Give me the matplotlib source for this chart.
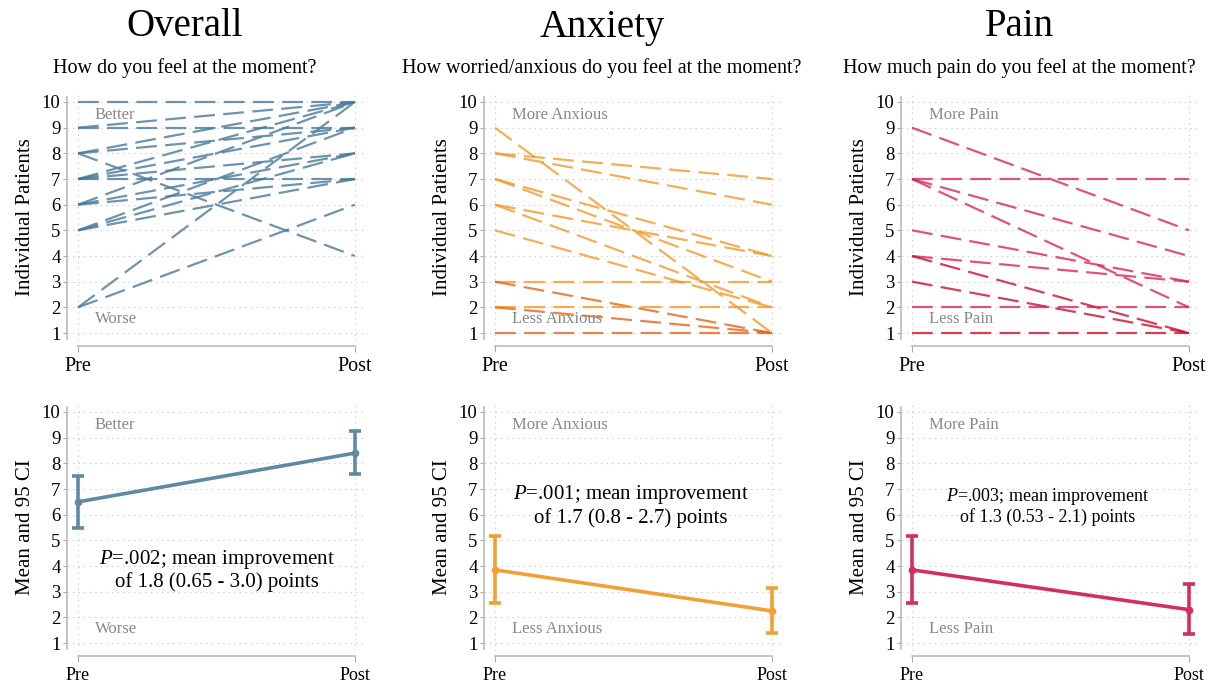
import matplotlib
matplotlib.use("Agg")
import matplotlib.pyplot as plt

plt.rcParams["font.family"] = ["Liberation Serif", "DejaVu Serif"]
plt.rcParams["mathtext.fontset"] = "custom"
plt.rcParams["mathtext.rm"] = "Liberation Serif"
plt.rcParams["mathtext.it"] = "Liberation Serif:italic"
plt.rcParams["lines.scale_dashes"] = False

# ------------------------------------------------------------
# Data
# ------------------------------------------------------------
TIMES = ["Pre", "Post"]
PANELS = ["Overall", "Anxiety", "Pain"]
QUESTIONS = [
    "How do you feel at the moment?",
    "How worried/anxious do you feel at the moment?",
    "How much pain do you feel at the moment?",
]

# individual patients: pre -> post
overall_pre = [10, 9, 9, 8, 8, 8, 7, 7, 7, 7, 6, 6, 6, 5, 5, 5, 2, 2]
overall_post = [10, 10, 9, 10, 9, 4, 7, 10, 8, 9, 10, 7, 8, 7, 8, 9, 10, 6]

anxiety_pre = [9, 8, 8, 7, 7, 6, 6, 5, 3, 3, 2, 2, 1]
anxiety_post = [1, 7, 6, 4, 3, 4, 2, 2, 3, 1, 2, 1, 1]

pain_pre = [9, 7, 7, 7, 5, 4, 4, 3, 2, 1]
pain_post = [5, 7, 4, 2, 3, 3, 1, 1, 2, 1]

# means with 95% CI
overall_mean = [6.5, 8.4]
overall_lo = [5.5, 7.6]
overall_hi = [7.5, 9.25]

anxiety_mean = [3.85, 2.25]
anxiety_lo = [2.55, 1.4]
anxiety_hi = [5.15, 3.15]

pain_mean = [3.85, 2.3]
pain_lo = [2.55, 1.35]
pain_hi = [5.15, 3.3]

TOP_LABELS = [("Better", "Worse"), ("More Anxious", "Less Anxious"), ("More Pain", "Less Pain")]
STATS = [
    "$\\it{P}$=.002; mean improvement\nof 1.8 (0.65 - 3.0) points",
    "$\\it{P}$=.001; mean improvement\nof 1.7 (0.8 - 2.7) points",
    "$\\it{P}$=.003; mean improvement\nof 1.3 (0.53 - 2.1) points",
]
STAT_POS = [(0.5, 3.85, 15), (0.49, 6.35, 15), (0.49, 6.35, 13)]

individual = [(overall_pre, overall_post), (anxiety_pre, anxiety_post), (pain_pre, pain_post)]
means = [(overall_mean, overall_lo, overall_hi),
         (anxiety_mean, anxiety_lo, anxiety_hi),
         (pain_mean, pain_lo, pain_hi)]

LINE_COLORS = ["#4a7a99", "#f09a2c", "#d8285a"]
LINE_DARK = ["#2a5878", "#e4661c", "#c8102e"]
MEAN_COLORS = ["#5f8aa3", "#f0a035", "#d42f5c"]

# ------------------------------------------------------------
# Layout (pixel positions of Pre tick / row tops)
# ------------------------------------------------------------
W, H = 1210, 682
PRE_PX = [78, 495, 912]
UNIT_X = 277
UNIT_Y = 25.67
ROW_TOP10 = [102, 412]
XLIM = (-0.038, 1.04)
YLIM = (0.7, 10.3)

fig = plt.figure(figsize=(W / 100, H / 100), dpi=100)


def make_ax(col, row):
    left = PRE_PX[col] + XLIM[0] * UNIT_X
    width = (XLIM[1] - XLIM[0]) * UNIT_X
    top = ROW_TOP10[row] - (YLIM[1] - 10) * UNIT_Y
    height = (YLIM[1] - YLIM[0]) * UNIT_Y
    ax = fig.add_axes([left / W, 1 - (top + height) / H, width / W, height / H])
    ax.set_xlim(*XLIM)
    ax.set_ylim(*YLIM)
    ax.set_xticks([0, 1])
    ax.set_xticklabels(TIMES)
    ax.set_yticks(range(1, 11))
    ax.tick_params(axis="y", labelsize=13.5, length=3, color="#aaaaaa", pad=2)
    ax.tick_params(axis="x", labelsize=14.5 if row == 0 else 13, length=4,
                   color="#aaaaaa", pad=4)
    for s in ["top", "right"]:
        ax.spines[s].set_visible(False)
    ax.spines["left"].set_position(("outward", 0))
    ax.spines["left"].set_bounds(0.75, 10.2)
    ax.spines["bottom"].set_position(("outward", 4))
    ax.spines["bottom"].set_bounds(0, 1)
    for s in ["left", "bottom"]:
        ax.spines[s].set_color("#bbbbbb")
        ax.spines[s].set_linewidth(1.2)
    for v in range(1, 11):
        ax.axhline(v, color="#cccccc", lw=0.8, ls=(0, (1, 3)), zorder=0)
    for v in [0, 1]:
        ax.axvline(v, color="#cccccc", lw=0.8, ls=(0, (1, 3)), zorder=0)
    return ax


for c in range(3):
    # headers
    cx = (PRE_PX[c] + 107) / W
    fig.text(cx, 1 - 27 / H, PANELS[c], ha="center", va="center", fontsize=28)
    fig.text(cx, 1 - 68 / H, QUESTIONS[c], ha="center", va="center", fontsize=14.5)

    hi_lab, lo_lab = TOP_LABELS[c]

    # top row: individual patients
    ax = make_ax(c, 0)
    pre, post = individual[c]
    for a, b in zip(pre, post):
        dark = (c > 0 and b == 1 and a <= 4) or (c == 0 and a - b in (1, 2) and b >= 9)
        col = LINE_DARK[c] if dark else LINE_COLORS[c]
        ax.plot([0, 1], [a, b], color=col, lw=1.6, alpha=0.8,
                dashes=(15, 6), dash_capstyle="butt")
    ax.set_ylabel("Individual Patients", fontsize=15, labelpad=5)
    ax.text(0.06, 9.5, hi_lab, fontsize=12, color="#888888", va="center")
    ax.text(0.06, 1.55, lo_lab, fontsize=12, color="#888888", va="center")

    # bottom row: mean and 95 CI
    ax = make_ax(c, 1)
    m, lo, hi = means[c]
    yerr = [[mm - l for mm, l in zip(m, lo)], [h - mm for mm, h in zip(m, hi)]]
    ax.errorbar([0, 1], m, yerr=yerr, color=MEAN_COLORS[c], lw=2.6, elinewidth=2.6,
                capsize=4, capthick=2.6, marker="o", markersize=4.5)
    ax.set_ylabel("Mean and 95 CI", fontsize=15, labelpad=5)
    ax.text(0.06, 9.5, hi_lab, fontsize=12, color="#888888", va="center")
    ax.text(0.06, 1.55, lo_lab, fontsize=12, color="#888888", va="center")
    sx, sy, fs = STAT_POS[c]
    ax.text(sx, sy, STATS[c], fontsize=fs, ha="center", va="center", linespacing=1.1)

fig.savefig("out.png", dpi=100)
